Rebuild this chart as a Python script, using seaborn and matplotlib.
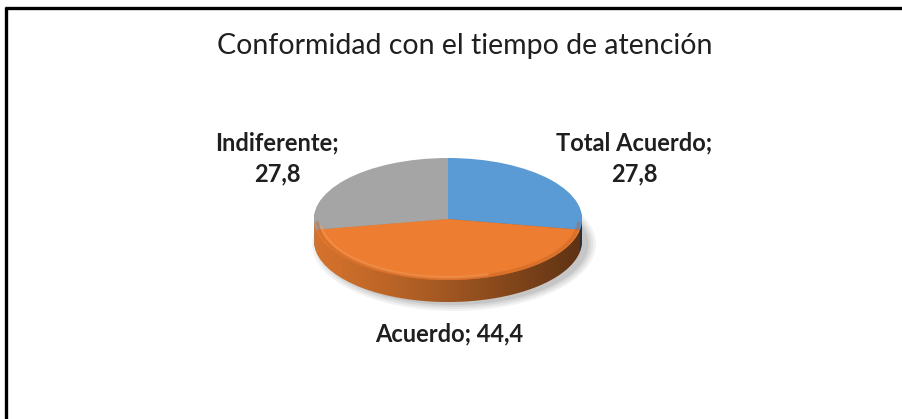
import numpy as np
import matplotlib.pyplot as plt
import seaborn as sns
from matplotlib import transforms
from matplotlib.patches import Polygon, Ellipse

categorias = ['Total Acuerdo', 'Acuerdo', 'Indiferente']
porcentajes = [27.8, 44.4, 27.8]
etiquetas = ['Total Acuerdo;\n27,8', 'Acuerdo; 44,4', 'Indiferente;\n27,8']
titulo = 'Conformidad con el tiempo de atención'

colores = sns.color_palette(['#5B9BD5', '#ED7D31', '#A5A5A5'])
colores_lado = sns.color_palette(['#5A6E80', '#D4722C', '#C07A48'])

sns.set_style('white')
plt.rcParams['font.family'] = ['Lato', 'DejaVu Sans']

W, H = 903, 419
fig = plt.figure(figsize=(W / 100, H / 100), dpi=100)
ax = fig.add_axes([0, 0, 1, 1])

# geometria del pastel "3D" (pixeles)
cx, cy = 448, H - 219
R = 134
ky = 61 / 134
prof = 22


def forma(dy):
    return transforms.Affine2D().scale(1, ky).translate(cx, cy - dy) + ax.transData


# sombra suave
for i, a in enumerate([0.05, 0.05, 0.06, 0.08]):
    s = Ellipse((cx + 6, cy - prof - 3), 2 * R + 16 - 5 * i, 2 * R * ky + 12 - 4 * i,
                color='black', alpha=a, zorder=0, lw=0)
    ax.add_patch(s)

# lateral: capas del mismo pastel desplazadas hacia abajo
for k in range(prof, 0, -1):
    cuñas, _ = ax.pie(porcentajes, radius=R, startangle=90, counterclock=False,
                      colors=colores_lado, wedgeprops=dict(linewidth=0))
    for c in cuñas:
        c.set_transform(forma(k))
        c.set_zorder(1)

# oscurecer el lateral hacia la derecha
t = np.linspace(np.pi, 2 * np.pi, 200)
arriba = np.column_stack([cx + R * np.cos(t), cy + R * ky * np.sin(t)])
abajo = np.column_stack([cx + R * np.cos(t), cy - prof + R * ky * np.sin(t)])
lado = Polygon(np.vstack([arriba, abajo[::-1]]), closed=True, facecolor='none',
               edgecolor='none', transform=ax.transData)
ax.add_patch(lado)
grad = np.zeros((2, 256, 4))
grad[..., 3] = np.linspace(0.0, 0.62, 256) ** 1.2
img = ax.imshow(grad, extent=(cx - R, cx + R, cy - prof - R * ky, cy),
                origin='lower', aspect='auto', zorder=2, interpolation='bilinear')
img.set_clip_path(lado)

# cara superior
cuñas, _ = ax.pie(porcentajes, radius=R, startangle=90, counterclock=False,
                  colors=colores, wedgeprops=dict(linewidth=0))
for c in cuñas:
    c.set_transform(forma(0))
    c.set_zorder(3)

# bisel del borde frontal
tb = np.linspace(np.pi * 1.02, np.pi * 1.98, 160)
ax.plot(cx + (R - 3) * np.cos(tb), cy + (R - 3) * ky * np.sin(tb),
        color='#B85C20', lw=2.5, alpha=0.35, zorder=4)
tb = np.linspace(np.pi * 1.04, np.pi * 1.6, 120)
ax.plot(cx + (R - 6) * np.cos(tb), cy + (R - 6) * ky * np.sin(tb),
        color='#F7A060', lw=1.8, alpha=0.45, zorder=4)

# etiquetas
est = dict(ha='center', va='center', fontsize=17, fontweight='bold',
           color='#1F1F1F', zorder=5)
ax.text(634, H - 143, etiquetas[0].split('\n')[0], **est)
ax.text(634, H - 174, etiquetas[0].split('\n')[1], **est)
ax.text(449, H - 334, etiquetas[1], **est)
ax.text(277, H - 143, etiquetas[2].split('\n')[0], **est)
ax.text(277, H - 174, etiquetas[2].split('\n')[1], **est)

ax.text(465, H - 46, titulo, ha='center', va='center', fontsize=20.5,
        color='#1F1F1F', zorder=5)

# marco
ax.plot([6.5, 6.5], [0, H - 7], color='black', lw=2.4, solid_capstyle='butt', zorder=6)
ax.plot([5, W], [H - 8.5, H - 8.5], color='black', lw=2.4, solid_capstyle='butt', zorder=6)

ax.set_xlim(0, W)
ax.set_ylim(0, H)
ax.set_aspect('auto')
ax.axis('off')

fig.savefig('out.png', dpi=100)
